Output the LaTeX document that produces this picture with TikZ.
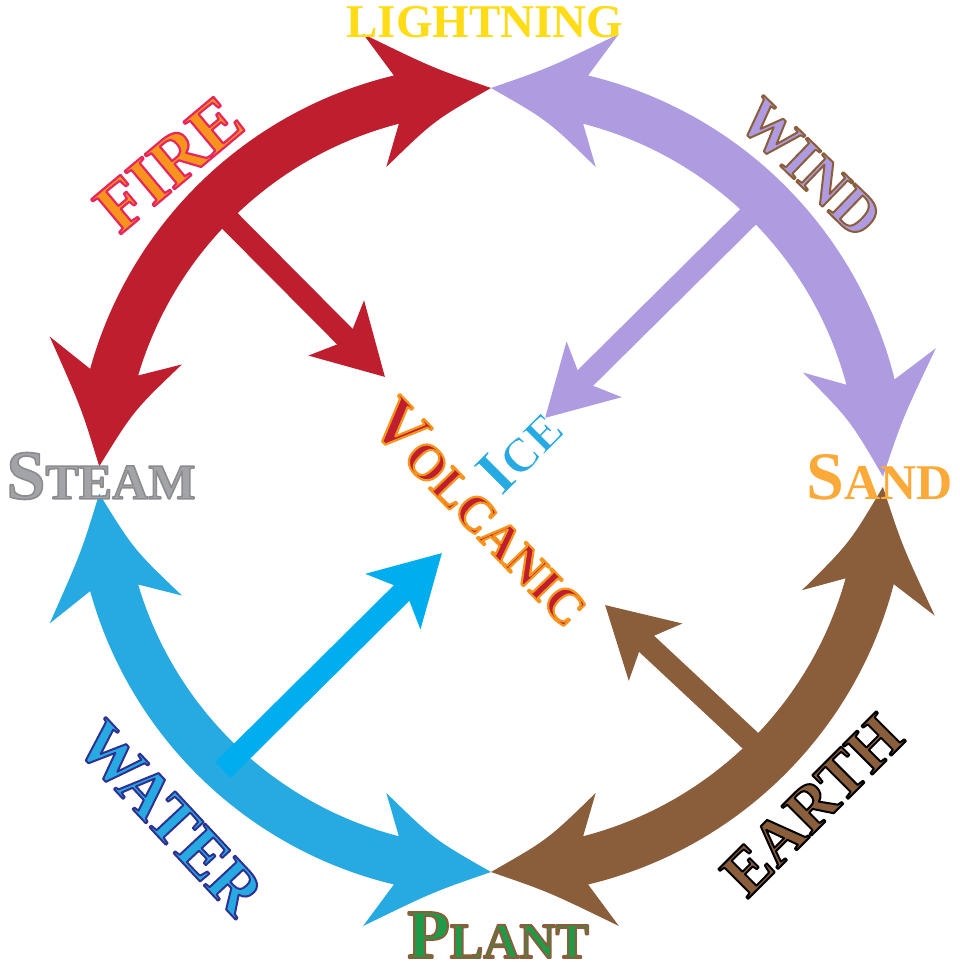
\documentclass[tikz,border=0pt]{standalone}
\usepackage{fontspec}
\setmainfont{Liberation Serif}
\usetikzlibrary{arrows.meta}

\definecolor{firered}{HTML}{BE1E2D}
\definecolor{windlilac}{HTML}{AF9CE0}
\definecolor{earthbrown}{HTML}{8A5D3B}
\definecolor{waterblue}{HTML}{27AAE1}
\definecolor{spokeblue}{HTML}{00AEEF}
\definecolor{boltyellow}{HTML}{FFDC15}
\definecolor{flameorange}{HTML}{F7941D}
\definecolor{sandorange}{HTML}{FBAA3A}
\definecolor{steamgray}{HTML}{A2A4A7}
\definecolor{leafgreen}{HTML}{1E9A48}

\newcommand{\fsz}[1]{\fontsize{#1}{#1}\selectfont}
% outline: pdf rgb triple, stroke width, text
\newcommand{\rimmed}[3]{\special{pdf:literal direct 2 Tr #2 w 1 j #1 RG}#3\special{pdf:literal direct 0 Tr}}

\begin{document}
\begin{tikzpicture}[
            x=1pt, y=1pt,
            spoke/.style={line width=22pt, -{Stealth[length=68pt, width=76pt, inset=16pt]}},
            elem/.style={inner sep=0pt, font=\bfseries}
        ]
            \fill[white] (0,0) rectangle (960,972);
            \useasboundingbox (0,0) rectangle (960,972);
            \coordinate (c) at (491,492);

            % --- Ring of four double-headed arcs ---
            \begin{scope}[shift={(c)}]
                % Fire: Steam <-> Lightning
                \fill[firered] (178:392) .. controls (170:416) .. (162:464) -- (164.5:416) arc[start angle=164.5, end angle=103.5, radius=416] -- (106:464) .. controls (98:416) .. (90:392) .. controls (99:364) .. (108.5:330) -- (104.5:368) arc[start angle=104.5, end angle=163.5, radius=368] -- (159.5:330) .. controls (169:364) .. (178:392) -- cycle;
                % Wind: Lightning <-> Sand
                \fill[windlilac] (90:392) .. controls (82:416) .. (74:464) -- (76.5:416) arc[start angle=76.5, end angle=14, radius=416] -- (16.5:464) .. controls (8.5:416) .. (0.5:392) .. controls (9.5:364) .. (19:330) -- (15:368) arc[start angle=15, end angle=75.5, radius=368] -- (71.5:330) .. controls (81:364) .. (90:392) -- cycle;
                % Earth: Sand <-> Plant
                \fill[earthbrown] (-1:392) .. controls (-9:416) .. (-17:464) -- (-14.5:416) arc[start angle=-14.5, end angle=-76.5, radius=416] -- (-74:464) .. controls (-82:416) .. (-90:392) .. controls (-81:364) .. (-71.5:330) -- (-75.5:368) arc[start angle=-75.5, end angle=-15.5, radius=368] -- (-19.5:330) .. controls (-10:364) .. (-1:392) -- cycle;
                % Water: Plant <-> Steam
                \fill[waterblue] (270:392) .. controls (262:416) .. (254:464) -- (256.5:416) arc[start angle=256.5, end angle=195.5, radius=416] -- (198:464) .. controls (190:416) .. (182:392) .. controls (191:364) .. (200.5:330) -- (196.5:368) arc[start angle=196.5, end angle=255.5, radius=368] -- (251.5:330) .. controls (261:364) .. (270:392) -- cycle;
            \end{scope}

            % --- Spokes towards the centre ---
            \coordinate (fire_foot) at (222,759);
            \coordinate (fire_tip) at (385,595);
            \coordinate (wind_foot) at (752,759);
            \coordinate (wind_tip) at (545,554);
            \coordinate (water_foot) at (223,202);
            \coordinate (water_tip) at (442,419);
            \coordinate (earth_foot) at (755,227);
            \coordinate (earth_tip) at (605,367);

            \draw[spoke, firered] (fire_foot) -- (fire_tip);
            \draw[spoke, windlilac] (wind_foot) -- (wind_tip);
            \draw[spoke, spokeblue] (water_foot) -- (water_tip);
            \draw[spoke, earthbrown] (earth_foot) -- (earth_tip);

            % --- Element names ---
            \node[elem, text=boltyellow] (lightning) at (485,950) {\fsz{47}LIGHTNING};
            \node[elem, text=steamgray] (steam) at (101,496) {\rimmed{0.55 0.55 0.56}{1.6}{\fsz{70}S\fsz{50}TEAM}};
            \node[elem, text=sandorange] (sand) at (880,495) {\fsz{68}S\fsz{50}AND};
            \node[elem, text=leafgreen] (plant) at (498,37) {\rimmed{0.541 0.365 0.231}{2}{\fsz{70}P\fsz{50}LANT}};

            \node[elem, text=flameorange, rotate=40] (fire) at (169,808) {\rimmed{0.91 0.149 0.369}{2.2}{\fsz{70}FIRE}};
            \node[elem, text=windlilac, rotate=-44] (wind) at (810,804) {\rimmed{0.541 0.365 0.231}{2}{\fsz{60}WIND}};
            \node[elem, text=waterblue, rotate=-47] (water) at (170,154) {\rimmed{0.18 0.192 0.573}{2}{\fsz{66}WATER}};
            \node[elem, text=earthbrown, rotate=45] (earth) at (812,167) {\rimmed{0 0 0}{2}{\fsz{64}EARTH}};

            % centre
            \node[elem, text=firered, rotate=-46] (volcanic) at (482,460) {\rimmed{0.969 0.58 0.114}{2.2}{\fsz{68}V\fsz{50}OLCANIC}};
            \node[elem, text=waterblue, rotate=45] (ice) at (519,522) {\rimmed{1 1 1}{0.8}{\fsz{64}I\fsz{48}CE}};

        \end{tikzpicture}
\end{document}
